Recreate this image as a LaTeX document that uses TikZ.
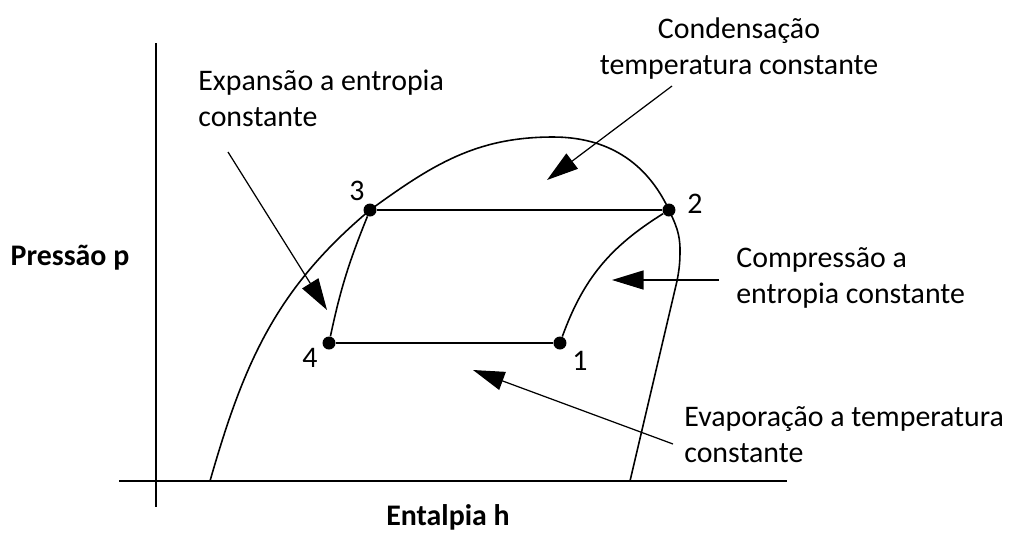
\documentclass[tikz,border=0pt]{standalone}
\usepackage{fontspec}
\setmainfont{Carlito}
\usetikzlibrary{arrows.meta,positioning}

\begin{document}
\begin{tikzpicture}[x=0.02cm, y=-0.02cm, font=\fontsize{17}{20}\selectfont,
    ponto/.style={circle, fill, inner sep=0pt, minimum size=0.26cm},
    num/.style={inner sep=0pt, anchor=base},
    nota/.style={inner sep=0pt, anchor=base west, align=left},
    eixo/.style={num, font=\fontsize{17}{20}\selectfont\bfseries},
    seta/.style={-{Triangle[length=0.63cm, width=0.38cm]}, line width=0.7pt},
    linha/.style={line width=0.9pt}]
    \useasboundingbox (0,0) rectangle (1010,532);
    \draw[line width=1.1pt] (156,43) -- (156,507);
    \draw[line width=1.1pt] (119,481) -- (787,481);
    \draw[linha] (210,481) to[out=74, in=220] (370,210) to[out=36, in=180] (553,137)
        to[out=0, in=115] (669,210) to[out=-65, in=90] (680,250) to[out=-90, in=79] (677,281) -- (630,481);
    \node[ponto] (p3) at (370,210) {};
    \node[ponto, on grid, right=5.98cm of p3] (p2) {};
    \node[ponto] (p4) at (329,343) {};
    \node[ponto, on grid, right=4.62cm of p4] (p1) {};
    \draw[linha] (p3) -- (p2);
    \draw[linha] (p4) -- (p1);
    \draw[linha] (p1) to[out=70, in=212] (p2);
    \draw[linha] (p3) to[out=-112, in=78] (p4);
    \node[num] at (357,200) {3};
    \node[num] at (695,213) {2};
    \node[num] at (580,370) {1};
    \node[num] at (310,367) {4};
    \node[nota] (expansao) at (198,126) {Expansão a entropia\\constante};
    \node[nota, anchor=base, align=center] (condensacao) at (739,74) {Condensação\\temperatura constante};
    \node[nota] (compressao) at (736,303) {Compressão a\\entropia constante};
    \node[nota] (evaporacao) at (684,462) {Evaporação a temperatura\\constante};
    \node[eixo] (pressao) at (70,265) {Pressão p};
    \node[eixo] (entalpia) at (448,525) {Entalpia h};
    \coordinate (e0) at (228,152);
    \coordinate (e1) at (327,310);
    \coordinate (c0) at (672,86);
    \coordinate (c1) at (547,180);
    \coordinate (k0) at (719,280);
    \coordinate (k1) at (612,280);
    \coordinate (v0) at (673,444);
    \coordinate (v1) at (473,370);
    \draw[seta] (e0) -- (e1);
    \draw[seta] (c0) -- (c1);
    \draw[seta] (k0) -- (k1);
    \draw[seta] (v0) -- (v1);
\end{tikzpicture}
\end{document}
